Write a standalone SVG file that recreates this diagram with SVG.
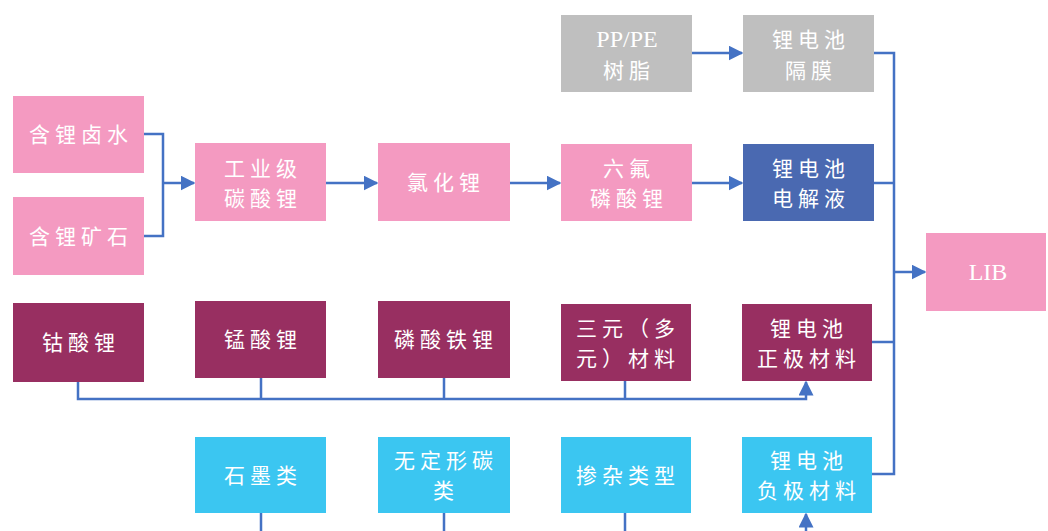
<svg xmlns="http://www.w3.org/2000/svg" width="1048" height="531" viewBox="0 0 1048 531">
<style>
.pink{fill:#F49AC1}.gray{fill:#BFBFBF}.navy{fill:#4A69B1}.mar{fill:#982F61}.cyan{fill:#3BC6F1}
text{fill:#FFFFFF;font-family:"Noto Sans CJK SC","Noto Sans",sans-serif;font-size:21px;letter-spacing:5px;text-anchor:middle}
text.lat{font-family:"Liberation Serif","Noto Sans CJK SC",serif;font-size:24px;letter-spacing:0}
.c{fill:none;stroke:#4472C4;stroke-width:2.5}
</style>
<defs>
<marker id="ah" viewBox="0 0 10 10" refX="9" refY="5" markerWidth="6" markerHeight="6" markerUnits="strokeWidth" orient="auto"><path d="M0,0L10,5L0,10z" fill="#4472C4"/></marker>
</defs>
<g id="connectors">
<path class="c" d="M144,134H163V236H144"/>
<path class="c" d="M163,183H194" marker-end="url(#ah)"/>
<path class="c" d="M326,183H377" marker-end="url(#ah)"/>
<path class="c" d="M510,183H560" marker-end="url(#ah)"/>
<path class="c" d="M692,183H742" marker-end="url(#ah)"/>
<path class="c" d="M692,53H742" marker-end="url(#ah)"/>
<path class="c" d="M874,53H894V474H872"/>
<path class="c" d="M874,183H894"/>
<path class="c" d="M872,342H894"/>
<path class="c" d="M894,272H925" marker-end="url(#ah)"/>
<path class="c" d="M78,382V399H806V382" marker-end="url(#ah)"/>
<path class="c" d="M261,378V399M444,378V399M625,381V399"/>
<path class="c" d="M261,513V531M444,513V531M625,513V531"/>
<path class="c" d="M806,531V514" marker-end="url(#ah)"/>
</g>
<g id="n-brine"><rect class="pink" x="13" y="96" width="131" height="77"/><text x="81" y="142">含锂卤水</text></g>
<g id="n-ore"><rect class="pink" x="13" y="197" width="131" height="78"/><text x="81" y="244">含锂矿石</text></g>
<g id="n-li2co3"><rect class="pink" x="195" y="143" width="131" height="78"/><text x="263" y="176">工业级</text><text x="263" y="206">碳酸锂</text></g>
<g id="n-licl"><rect class="pink" x="378" y="143" width="132" height="78"/><text x="446" y="190">氯化锂</text></g>
<g id="n-lipf6"><rect class="pink" x="561" y="144" width="131" height="77"/><text x="629" y="176">六氟</text><text x="629" y="206">磷酸锂</text></g>
<g id="n-electrolyte"><rect class="navy" x="743" y="144" width="131" height="77"/><text x="811" y="176">锂电池</text><text x="811" y="206">电解液</text></g>
<g id="n-resin"><rect class="gray" x="561" y="15" width="131" height="77"/><text class="lat" x="627" y="47">PP/PE</text><text x="629" y="78">树脂</text></g>
<g id="n-separator"><rect class="gray" x="743" y="15" width="131" height="77"/><text x="811" y="47">锂电池</text><text x="811" y="78">隔膜</text></g>
<g id="n-lib"><rect class="pink" x="926" y="233" width="120" height="78"/><text class="lat" x="988" y="280">LIB</text></g>
<g id="n-lco"><rect class="mar" x="13" y="303" width="131" height="79"/><text x="81" y="350">钴酸锂</text></g>
<g id="n-lmo"><rect class="mar" x="195" y="301" width="131" height="77"/><text x="263" y="347">锰酸锂</text></g>
<g id="n-lfp"><rect class="mar" x="378" y="301" width="132" height="77"/><text x="446" y="347">磷酸铁锂</text></g>
<g id="n-ncm"><rect class="mar" x="561" y="304" width="130" height="77"/><text x="628" y="336">三元（多</text><text x="628" y="366">元）材料</text></g>
<g id="n-cathode"><rect class="mar" x="742" y="304" width="130" height="77"/><text x="809" y="336">锂电池</text><text x="809" y="366">正极材料</text></g>
<g id="n-graphite"><rect class="cyan" x="195" y="437" width="131" height="76"/><text x="263" y="483">石墨类</text></g>
<g id="n-amorph"><rect class="cyan" x="378" y="437" width="132" height="76"/><text x="446" y="468">无定形碳</text><text x="446" y="498">类</text></g>
<g id="n-doped"><rect class="cyan" x="561" y="437" width="130" height="76"/><text x="628" y="483">掺杂类型</text></g>
<g id="n-anode"><rect class="cyan" x="742" y="437" width="130" height="76"/><text x="809" y="468">锂电池</text><text x="809" y="498">负极材料</text></g>
</svg>
